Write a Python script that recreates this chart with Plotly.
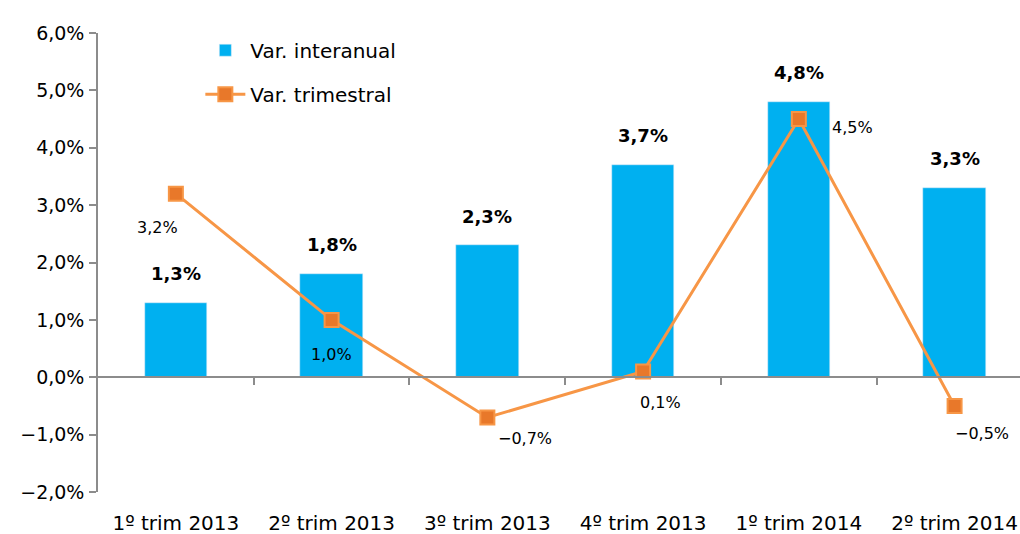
import plotly.graph_objects as go

categories = ["1º trim 2013", "2º trim 2013", "3º trim 2013", "4º trim 2013", "1º trim 2014", "2º trim 2014"]
interanual = [1.3, 1.8, 2.3, 3.7, 4.8, 3.3]
trimestral = [3.2, 1.0, -0.7, 0.1, 4.5, -0.5]
y_ticks = [-2, -1, 0, 1, 2, 3, 4, 5, 6]

# label offsets (px) for the line labels: (xshift, yshift)
line_label_shift = [(-18, -34), (0, -35), (38, -21), (17, -31), (54, -8), (27, -28)]

def fmt(v):
    s = f"{v:.1f}".replace(".", ",").replace("-", "−")
    return s + "%"

xpos = list(range(len(categories)))
FONT = "DejaVu Sans"
ORANGE = "#F79646"
BLUE = "#00B0F0"

fig = go.Figure()
fig.add_trace(go.Bar(
    x=xpos, y=interanual, name="Var. interanual", marker_color=BLUE,
    width=0.4, legendgroup="a", hoverinfo="skip",
))
fig.add_trace(go.Scatter(
    x=xpos, y=trimestral, name="Var. trimestral", mode="lines+markers",
    line=dict(color=ORANGE, width=3),
    marker=dict(symbol="square", size=14, color="#E8782A",
                line=dict(color=ORANGE, width=2)),
    legendgroup="b", hoverinfo="skip",
))
# helper trace on overlay axis for the zero-line axis with boundary ticks
fig.add_trace(go.Scatter(
    x=xpos, y=[0] * len(xpos), xaxis="x2", mode="none",
    showlegend=False, hoverinfo="skip",
))

ann = []
for i, v in enumerate(interanual):
    ann.append(dict(x=i, y=v, xref="x", yref="y", text="<b>" + fmt(v) + "</b>",
                    showarrow=False, yshift=29,
                    font=dict(family=FONT, size=18, color="#000")))
for i, v in enumerate(trimestral):
    dx, dy = line_label_shift[i]
    ann.append(dict(x=i, y=v, xref="x", yref="y", text=fmt(v),
                    showarrow=False, xshift=dx, yshift=dy,
                    font=dict(family=FONT, size=16, color="#000")))

xr = [-0.5, 5.42]
fig.update_layout(
    width=1020, height=534,
    margin=dict(l=98, r=0, t=33, b=42),
    plot_bgcolor="white", paper_bgcolor="white",
    font=dict(family=FONT, size=18, color="#000"),
    showlegend=True,
    legend=dict(x=0.111, y=1.005, xanchor="left", yanchor="top",
                traceorder="grouped", tracegroupgap=15,
                font=dict(family=FONT, size=20, color="#000"),
                bgcolor="rgba(0,0,0,0)", itemwidth=40),
    xaxis=dict(range=xr, tickmode="array", tickvals=xpos, ticktext=categories,
               showline=False, ticks="", showgrid=False, zeroline=False,
               ticklabelstandoff=17, tickfont=dict(family=FONT, size=20)),
    xaxis2=dict(range=xr, overlaying="x", anchor="free", position=0.25,
                side="bottom", showline=True, linecolor="#8C8C8C", linewidth=1.5,
                ticks="outside", ticklen=7, tickcolor="#8C8C8C", tickwidth=1.5,
                tickmode="array", tickvals=[i + 0.5 for i in xpos[:-1]],
                showticklabels=False, showgrid=False, zeroline=False),
    yaxis=dict(range=[-2, 6], tickmode="array", tickvals=y_ticks,
               ticktext=[fmt(t) for t in y_ticks],
               showline=True, linecolor="#8C8C8C", linewidth=1.5,
               ticks="outside", ticklen=7, tickcolor="#8C8C8C", tickwidth=1.5,
               showgrid=False, zeroline=False, ticklabelstandoff=1,
               tickfont=dict(family=FONT, size=19)),
    annotations=ann,
    bargap=0,
)
fig.write_html("out.html", config={"displayModeBar": False},
               post_script="document.body.style.margin='0';document.body.style.overflow='hidden';")
